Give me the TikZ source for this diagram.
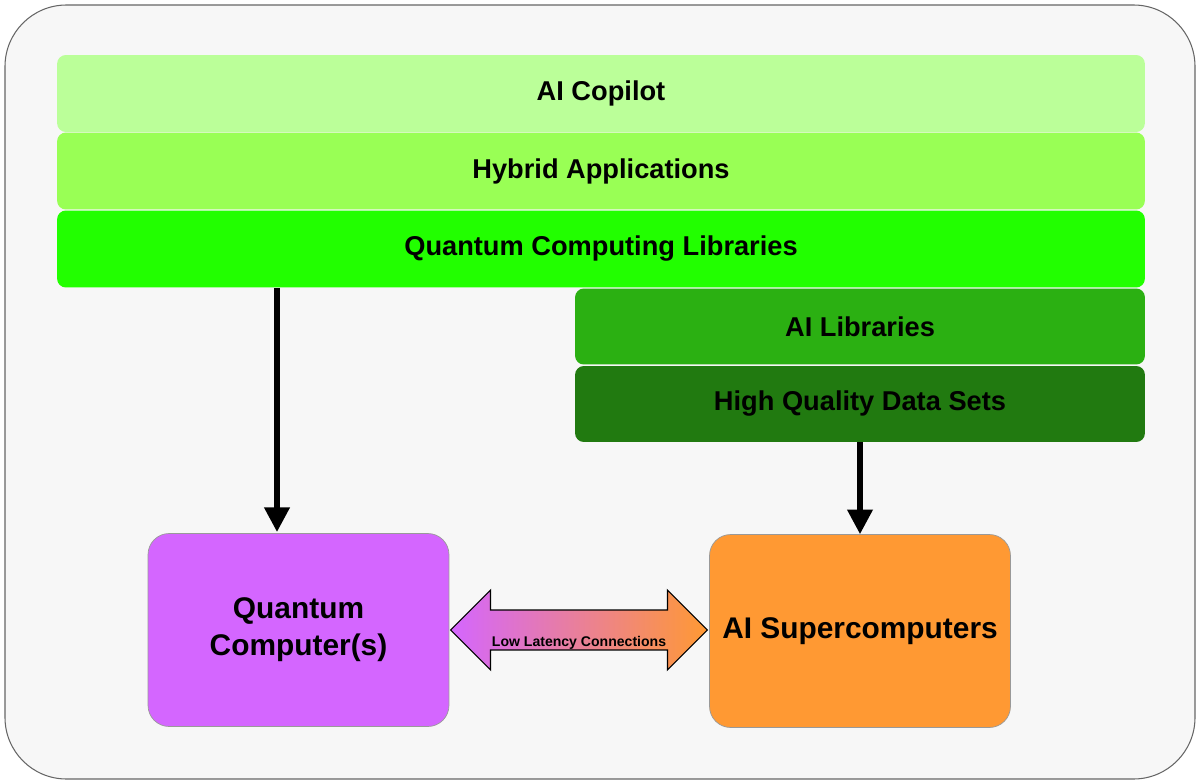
\documentclass[tikz,border=0pt]{standalone}
\usepackage{fontspec}
\setmainfont{Liberation Sans}
\usetikzlibrary{shapes.arrows,arrows.meta}
\definecolor{bg}{HTML}{F7F7F7}
\definecolor{c1}{HTML}{BBFF99}
\definecolor{c2}{HTML}{99FF55}
\definecolor{c3}{HTML}{22FF00}
\definecolor{c4}{HTML}{2BB012}
\definecolor{c5}{HTML}{217A10}
\definecolor{qc}{HTML}{D466FF}
\definecolor{ai}{HTML}{FF9933}
\tikzset{
 bar/.style={draw=none, rounded corners=5pt, inner sep=0pt, font=\fontsize{15.5}{18}\selectfont\bfseries, text=black},
 box/.style={draw=black!40, line width=0.4pt, rounded corners=12pt, inner sep=0pt, minimum width=6.02cm, minimum height=3.86cm, align=center, font=\fontsize{17}{21}\selectfont\bfseries},
 flow/.style={line width=3pt, -{Triangle[length=14pt,width=14pt]}}
}
\begin{document}
\begin{tikzpicture}[x=0.02cm,y=-0.02cm]
\useasboundingbox (0,0) rectangle (1200,784);
\draw[draw=black!60, fill=bg, line width=0.6pt, rounded corners=35pt] (5,5) rectangle (1195,779);
\node[bar, fill=c1, minimum width=21.76cm, minimum height=1.54cm] (cop) at (601,93.5) {AI Copilot};
\node[bar, fill=c2, minimum width=21.76cm, minimum height=1.54cm] (hyb) at (601,171) {Hybrid Applications};
\node[bar, fill=c3, minimum width=21.76cm, minimum height=1.54cm] (qcl) at (601,249) {Quantum Computing Libraries};
\node[bar, fill=c4, minimum width=11.4cm, minimum height=1.52cm] (ail) at (860,326.5) {AI Libraries};
\node[bar, fill=c5, minimum width=11.4cm, minimum height=1.52cm] (hq) at (860,404) {High Quality Data Sets};
\node[box, fill=qc] (qc) at (298.5,630) {Quantum\\Computer(s)};
\node[box, fill=ai] (sc) at (860,631) {AI Supercomputers};
\coordinate (a1) at (277,288);
\coordinate (a2) at (277,532);
\draw[flow] (a1) -- (a2);
\draw[flow] (hq.south) -- (sc.north);
\node[double arrow, draw=black, line width=0.6pt, left color=qc, right color=ai,
 minimum width=1.6cm, double arrow head extend=0.4cm, minimum height=5.14cm, inner sep=0pt,
 font=\fontsize{8}{10}\selectfont\bfseries] (lat) at (579,630) {\rule{0pt}{0.72cm}Low Latency Connections};
\end{tikzpicture}
\end{document}
